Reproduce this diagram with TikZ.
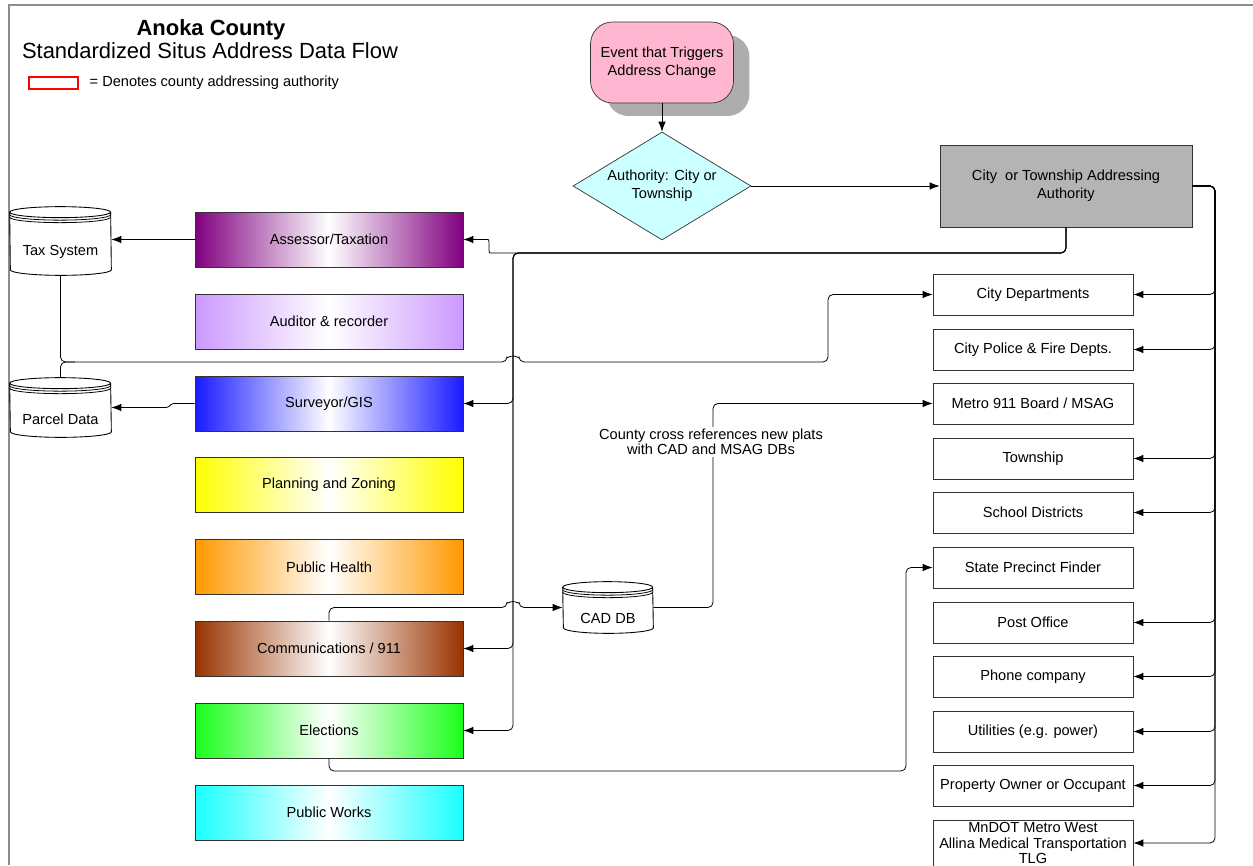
\documentclass[tikz,border=0pt]{standalone}
\usepackage{fontspec}
\setmainfont{Liberation Sans}
\usetikzlibrary{shapes.geometric,shadows,arrows.meta,positioning}
\definecolor{evtpink}{RGB}{255,182,208}
\definecolor{decblue}{RGB}{204,255,255}
\definecolor{citygray}{RGB}{180,180,180}
\definecolor{assesspurple}{RGB}{128,0,128}
\definecolor{auditlilac}{RGB}{204,153,255}
\definecolor{surveyblue}{RGB}{26,26,255}
\definecolor{planyellow}{RGB}{255,255,0}
\definecolor{healthorange}{RGB}{255,153,0}
\definecolor{commbrown}{RGB}{153,51,0}
\definecolor{electgreen}{RGB}{26,255,26}
\definecolor{workscyan}{RGB}{26,255,255}
\newcommand{\drum}[2]{%
  \draw[line width=0.5pt] ([yshift=-0.11cm]#1.north west) arc[start angle=180,end angle=0,x radius=#2,y radius=0.11cm]
    -- ([yshift=0.11cm]#1.south east) arc[start angle=0,end angle=-180,x radius=#2,y radius=0.11cm] -- cycle;
  \draw[line width=0.5pt] ([yshift=-0.11cm]#1.north west) arc[start angle=180,end angle=360,x radius=#2,y radius=0.11cm];
  \draw[line width=0.45pt] ([yshift=-0.16cm]#1.north west) arc[start angle=180,end angle=360,x radius=#2,y radius=0.11cm];
  \draw[line width=0.45pt] ([yshift=-0.21cm]#1.north west) arc[start angle=180,end angle=360,x radius=#2,y radius=0.11cm];
}
\begin{document}
\begin{tikzpicture}[x=0.02cm,y=-0.02cm,font=\fontsize{8.3}{10}\selectfont,
  dept/.style={draw=black!80,minimum width=5.36cm,minimum height=1.1cm,left color=#1,right color=#1,middle color=white},
  agency/.style={draw=black!80,fill=white,minimum width=4cm,minimum height=0.82cm,align=center,inner sep=0pt},
  drumbox/.style 2 args={minimum width=#1,minimum height=#2,inner sep=0pt},
  link/.style={line width=0.45pt,rounded corners=0.1cm},
  flow/.style={link,-{Latex[length=0.2cm,width=0.15cm]}}]
\useasboundingbox (0,0) rectangle (1253,865);
\draw[black!45,line width=0.05cm] (9,865) -- (9,5) -- (1253,5);

\node[font=\bfseries\fontsize{12.5}{14}\selectfont] (title) at (211,30) {Anoka County};
\node[font=\fontsize{12.5}{14}\selectfont] (subtitle) at (210,51) {Standardized Situs Address Data Flow};
\node[draw=red,line width=0.04cm,minimum width=1cm,minimum height=0.26cm,inner sep=0pt] (key) at (53.5,83) {};
\node[right=0.08cm of key] (keytext) {= Denotes county addressing authority};

\node[draw=black!80,fill=evtpink,rounded corners=0.44cm,minimum width=2.86cm,minimum height=1.62cm,align=center,
  drop shadow={shadow xshift=0.32cm,shadow yshift=-0.26cm,fill=black!32,opacity=1}] (event) at (662,62.5) {Event that Triggers\\Address Change};
\node[diamond,aspect=1.65,draw=black!80,fill=decblue,minimum width=3.56cm,minimum height=2.16cm,inner sep=0pt,align=center] (dec) at (662,186) {Authority: City or\\Township};
\node[draw=black!80,fill=citygray,minimum width=5.04cm,minimum height=1.64cm,align=center] (city) at (1066,186) {City\ \ or Township Addressing\\Authority};

\node[dept=assesspurple] (asse) at (329,239.5) {Assessor/Taxation};
\node[dept=auditlilac] (audit) at (329,321.5) {Auditor \& recorder};
\node[dept=surveyblue] (surv) at (329,403.5) {Surveyor/GIS};
\node[dept=planyellow] (plan) at (329,485) {Planning and Zoning};
\node[dept=healthorange] (health) at (329,567) {Public Health};
\node[dept=commbrown] (comm) at (329,648.5) {Communications / 911};
\node[dept=electgreen] (elec) at (329,730.5) {Elections};
\node[dept=workscyan] (works) at (329,812.5) {Public Works};

\node[agency] (cdep) at (1033,294.5) {City Departments};
\node[agency] (police) at (1033,349.5) {City Police \& Fire Depts.};
\node[agency] (metro) at (1033,403.5) {Metro 911 Board / MSAG};
\node[agency] (town) at (1033,458.5) {Township};
\node[agency] (school) at (1033,512.5) {School Districts};
\node[agency] (prec) at (1033,567.5) {State Precinct Finder};
\node[agency] (post) at (1033,622.5) {Post Office};
\node[agency] (phone) at (1033,676.5) {Phone company};
\node[agency] (util) at (1033,731.5) {Utilities (e.g. power)};
\node[agency] (owner) at (1033,785.5) {Property Owner or Occupant};
\node[agency,minimum height=0.92cm,font=\fontsize{8.3}{8.6}\selectfont] (mndot) at (1033,843) {MnDOT Metro West\\Allina Medical Transportation\\TLG};

\node[drumbox={2.02cm}{1.36cm},label={[yshift=-0.22cm]center:Tax System}] (tax) at (60.5,241) {};
\drum{tax}{1.01cm}
\node[drumbox={2.02cm}{1.18cm},label={[yshift=-0.23cm]center:Parcel Data}] (parc) at (60.5,407.5) {};
\drum{parc}{1.01cm}
\node[drumbox={1.8cm}{1.02cm},label={[yshift=-0.21cm]center:CAD DB}] (cad) at (608,607.5) {};
\drum{cad}{0.9cm}

\draw[flow] (event) -- (dec);
\draw[flow] (dec) -- (city);
\draw[flow] (city.south) |- (495,253) to[out=180,in=0] (483,239.5) -- (asse.east);
\draw[flow] (city.south) |- (513,253) |- (surv.east);
\draw[flow] (city.south) |- (513,253) |- (comm.east);
\draw[flow] (city.south) |- (513,253) |- (elec.east);
\draw[flow] (city.east) -- (1215,186) |- (cdep.east);
\draw[flow] (city.east) -- (1215,186) |- (police.east);
\draw[flow] (city.east) -- (1215,186) |- (town.east);
\draw[flow] (city.east) -- (1215,186) |- (school.east);
\draw[flow] (city.east) -- (1215,186) |- (post.east);
\draw[flow] (city.east) -- (1215,186) |- (phone.east);
\draw[flow] (city.east) -- (1215,186) |- (util.east);
\draw[flow] (city.east) -- (1215,186) |- (owner.east);
\draw[flow] (city.east) -- (1215,186) |- (mndot.east);
\draw[flow] (asse.west) -- (asse.west -| tax.east);
\draw[flow,rounded corners=0.03cm] (surv.west) -- (172,403.5) -- (168,407.5) -- (parc.east);
\draw[flow] (tax.south) |- (507,362) arc[start angle=180,end angle=0,radius=0.12cm] -- (828,362) |- (cdep.west);
\draw[link] (parc.north) |- (75,362);
\draw[flow] (comm.north) |- (507,607.5) arc[start angle=180,end angle=0,radius=0.12cm] -- (cad.west);
\draw[flow] (cad.east) -- (713,607.5) |- (metro.west);
\draw[flow] (elec.south) |- (906,771) |- (prec.west);

\node[fill=white,inner sep=1pt,align=center,font=\fontsize{8.3}{8.6}\selectfont] (note) at (711,442) {County cross references new plats\\with CAD and MSAG DBs};
\end{tikzpicture}
\end{document}
